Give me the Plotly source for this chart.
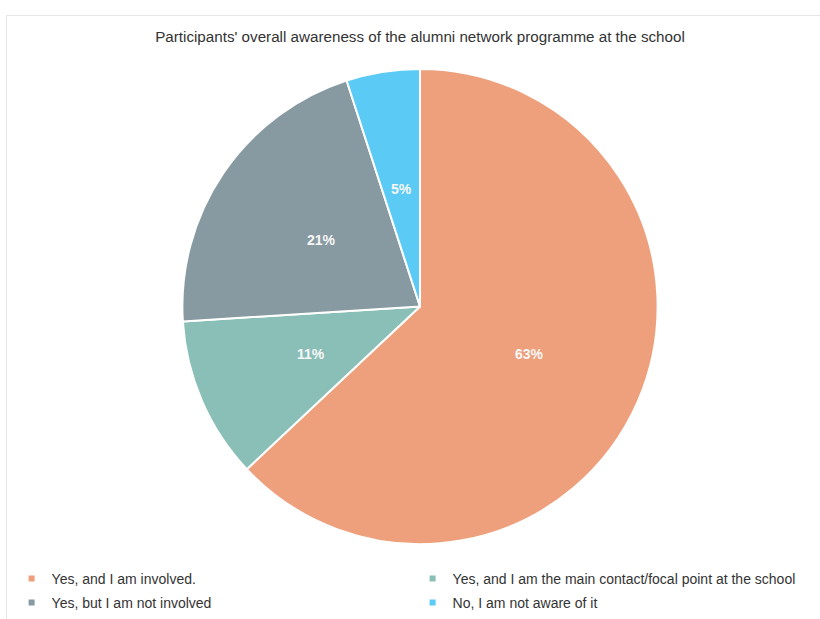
import math
import plotly.graph_objects as go

categories = [
    "Yes, and I am involved.",
    "Yes, and I am the main contact/focal point at the school",
    "Yes, but I am not involved",
    "No, I am not aware of it",
]
values = [63, 11, 21, 5]
colors = ["#EDA07B", "#8ABFB7", "#8799A1", "#5BCBF5"]
title_text = "Participants' overall awareness of the alumni network programme at the school"

W, H = 820, 619
cx, cy, R = 420, 307, 238
FONT = "Liberation Sans, Arial, sans-serif"

fig = go.Figure()
fig.add_trace(go.Pie(
    labels=categories,
    values=values,
    sort=False,
    direction="clockwise",
    rotation=0,
    marker=dict(colors=colors, line=dict(color="white", width=2)),
    textinfo="none",
    domain=dict(x=[(cx - R) / W, (cx + R) / W], y=[1 - (cy + R) / H, 1 - (cy - R) / H]),
    showlegend=False,
    hoverinfo="label+percent",
))

# percentage labels at half radius of each slice's mid-angle
total = sum(values)
annotations = []
cum = 0
for v in values:
    mid = (cum + v / 2) / total * 2 * math.pi
    cum += v
    px = cx + 0.5 * R * math.sin(mid)
    py = cy - 0.5 * R * math.cos(mid)
    annotations.append(dict(
        x=px / W, y=1 - py / H, xref="paper", yref="paper",
        text=f"{round(v / total * 100)}%", showarrow=False,
        xanchor="center", yanchor="middle",
        font=dict(family=FONT, size=14, color="#F7F7F7", weight="bold"),
    ))

# legend entries (small square markers): one legend box per cell of a 2x2 grid
legend_ids = ["legend", "legend2", "legend3", "legend4"]
for i, (name, col) in enumerate(zip(categories, colors)):
    fig.add_trace(go.Scatter(
        x=[None], y=[None], mode="markers", name=name,
        marker=dict(symbol="square", size=6, color=col),
        legend=legend_ids[i],
        hoverinfo="skip",
    ))

legend_common = dict(
    orientation="h",
    font=dict(family=FONT, size=14, color="#333333"),
    xanchor="left", yanchor="middle", bgcolor="rgba(0,0,0,0)",
    itemclick=False, itemdoubleclick=False,
)
col_x = [11.6 / W, 412.6 / W]
row_y = [1 - 579 / H, 1 - 604 / H]
legend_layout = {}
for i, lid in enumerate(legend_ids):
    legend_layout[lid] = dict(**legend_common, x=col_x[i % 2], y=row_y[i // 2])

fig.update_layout(
    width=W, height=H,
    margin=dict(l=0, r=0, t=0, b=0),
    paper_bgcolor="white", plot_bgcolor="white",
    title=dict(text=title_text, x=420 / W, xanchor="center", y=1 - 37 / H, yanchor="middle",
               font=dict(family=FONT, size=15.2, color="#333333")),
    xaxis=dict(visible=False), yaxis=dict(visible=False),
    annotations=annotations,
    shapes=[dict(type="rect", xref="paper", yref="paper",
                 x0=6.5 / W, x1=1.01, y0=-0.01, y1=1 - 15.5 / H,
                 line=dict(color="#E6E6E6", width=1))],
    **legend_layout,
)

fig.write_html("out.html")
